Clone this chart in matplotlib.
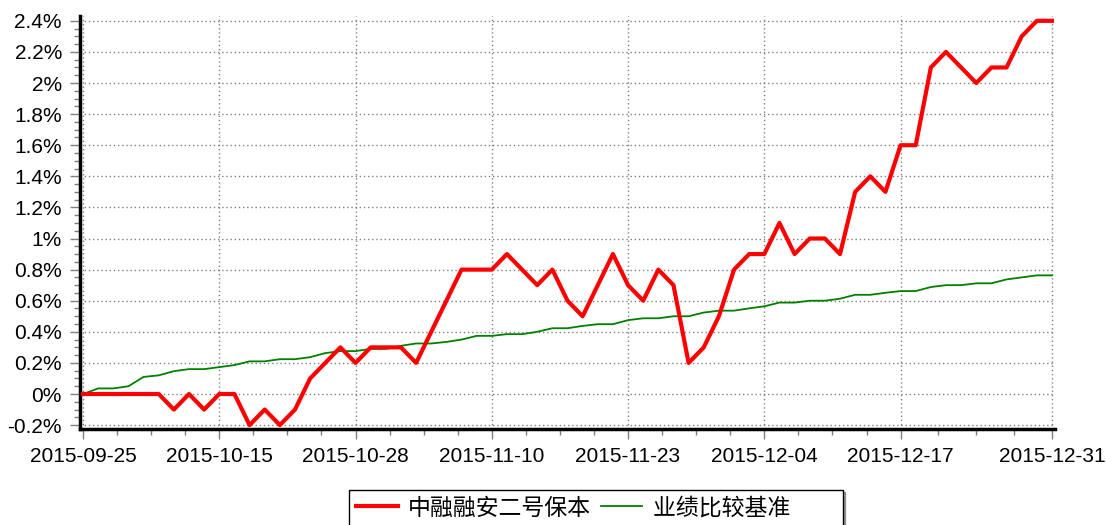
import pandas as pd
import matplotlib
matplotlib.use("Agg")
import matplotlib.pyplot as plt
from matplotlib.ticker import FixedLocator, FuncFormatter

plt.rcParams['font.family'] = ['Liberation Sans', 'Noto Sans CJK SC']

# trading days, National Day holiday removed
days = pd.bdate_range("2015-09-25", "2015-12-31")
days = days[(days < "2015-10-01") | (days > "2015-10-07")]
dates = [d.strftime("%Y-%m-%d") for d in days]

fund_name = "中融融安二号保本"
bench_name = "业绩比较基准"

# cumulative return, %
fund = [0, 0, 0, 0, 0, 0, -0.1, 0, -0.1, 0,
        0, -0.2, -0.1, -0.2, -0.1, 0.1, 0.2, 0.3, 0.2, 0.3,
        0.3, 0.3, 0.2, 0.4, 0.6, 0.8, 0.8, 0.8, 0.9, 0.8,
        0.7, 0.8, 0.6, 0.5, 0.7, 0.9, 0.7, 0.6, 0.8, 0.7,
        0.2, 0.3, 0.5, 0.8, 0.9, 0.9, 1.1, 0.9, 1.0, 1.0,
        0.9, 1.3, 1.4, 1.3, 1.6, 1.6, 2.1, 2.2, 2.1, 2.0,
        2.1, 2.1, 2.3, 2.4, 2.4]

bench = [0.0, 0.036, 0.036, 0.05, 0.11, 0.12, 0.147, 0.16, 0.16, 0.173,
         0.186, 0.21, 0.21, 0.224, 0.224, 0.237, 0.263, 0.276, 0.276, 0.29,
         0.29, 0.31, 0.325, 0.325, 0.335, 0.35, 0.374, 0.374, 0.385, 0.385,
         0.40, 0.423, 0.423, 0.438, 0.449, 0.449, 0.475, 0.487, 0.487, 0.50,
         0.50, 0.524, 0.536, 0.536, 0.551, 0.564, 0.588, 0.588, 0.60, 0.60,
         0.613, 0.638, 0.638, 0.651, 0.662, 0.662, 0.688, 0.70, 0.70, 0.712,
         0.712, 0.737, 0.75, 0.763, 0.763]

tick_idx = [0, 9, 18, 27, 36, 45, 54, 64]
y_ticks = [-0.2, 0, 0.2, 0.4, 0.6, 0.8, 1.0, 1.2, 1.4, 1.6, 1.8, 2.0, 2.2, 2.4]

W, H = 1106, 525
fig = plt.figure(figsize=(W / 100, H / 100), dpi=100)
ax = fig.add_axes([80 / W, 1 - 429 / H, (1055 - 80) / W, (429 - 16) / H])

x = list(range(len(dates)))
ax.plot(x, fund, color='#ff0000', lw=3, label=fund_name, zorder=3)
# trailing blank space inside the legend box, as in the original
ax.plot(x, bench, color='#008000', lw=1.3, label=bench_name + "\u3000\u3000", zorder=2)

ax.set_xlim(-0.2, 64.2)
ax.set_ylim(-0.225, 2.431)

ax.xaxis.set_major_locator(FixedLocator(tick_idx))
ax.set_xticklabels([dates[i] for i in tick_idx])
minor_x = []
for a, b in zip(tick_idx[:-1], tick_idx[1:]):
    minor_x += [a + (b - a) * k / 4 for k in (1, 2, 3)]
ax.xaxis.set_minor_locator(FixedLocator(minor_x))

ax.yaxis.set_major_locator(FixedLocator(y_ticks))
ax.yaxis.set_minor_locator(FixedLocator([v / 100 for v in range(-20, 241, 5)]))
ax.yaxis.set_major_formatter(FuncFormatter(lambda v, p: "%g%%" % round(v, 2)))

ax.grid(True, which='major', color='#808080', linestyle=(0, (1, 2)), lw=1)

for s in ['top', 'right']:
    ax.spines[s].set_visible(False)
for s in ['left', 'bottom']:
    ax.spines[s].set_linewidth(2.5)
    ax.spines[s].set_color('black')

ax.tick_params(which='major', length=7, width=1, color='#808080',
               labelsize=15, labelcolor='black', pad=6)
ax.tick_params(which='minor', length=4, width=1, color='#808080')

leg = fig.legend(loc='center', bbox_to_anchor=(596 / W, 1 - 508 / H), ncol=2,
                 fontsize=16.5, frameon=True, fancybox=False, shadow=True,
                 handlelength=1.8, handletextpad=0.45, columnspacing=0.45,
                 borderpad=0.3, borderaxespad=0)
leg.get_frame().set_edgecolor('black')
leg.get_frame().set_linewidth(1)

fig.savefig("out.png", dpi=100)
